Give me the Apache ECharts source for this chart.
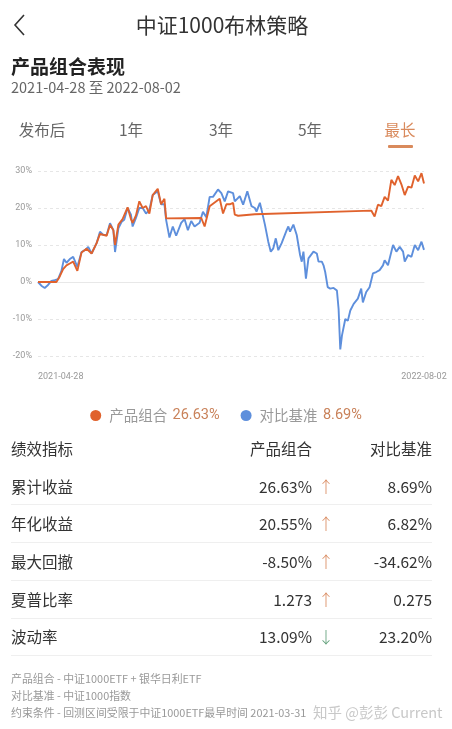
<!DOCTYPE html>
<html>
<head>
<meta charset="utf-8">
<script src="https://cdn.jsdelivr.net/npm/echarts@6/dist/echarts.min.js"></script>
<style>
  html, body { margin:0; padding:0; background:#fff; }
  body { width:452px; height:729px; position:relative; overflow:hidden;
         font-family: "Noto Sans CJK SC", "Noto Sans", Roboto, sans-serif; }
  #chart { position:absolute; left:0; top:0; width:452px; height:729px; }
  .t { position:absolute; white-space:nowrap; line-height:1; }
  .sep { position:absolute; left:11px; width:421px; height:1px; background:#efefef; }
</style>
</head>
<body>
<div id="chart"></div>
<script>
// ---------- data ----------
const periodLabels = ['2021-04-28', '2022-08-02'];          // x tick labels
const periodText = '2021-04-28 至 2022-08-02';
const seriesNames = ['产品组合', '对比基准'];
const seriesTotals = ['26.63%', '8.69%'];
const yTicks = [-20, -10, 0, 10, 20, 30];                  // y axis, %

// calendar-day offset from 2021-04-28 and cumulative return (%)
const portfolioDays = [0,22,26,30,34,38,42,47,52,58,64,70,74,82,86,90,92,96,101,107,111,113,117,121,125,129,133,137,143,147,151,153,195,199,205,211,217,221,225,229,233,235,239,259,398,402,406,410,414,418,422,426,430,434,438,442,446,450,454,458,461];
const portfolioValues = [0,0,1.5,3.5,4.5,5,5.5,3,8,9,7.7,10.5,13,12.5,15.5,14,10,15.5,17,20.2,17,16,18,21.8,20,20.5,18.5,23.5,25.2,21,22.5,17.2,17.3,15,20.5,21.5,22.5,18.5,21,21,21.4,18.2,17.9,18.3,19.3,17.7,20.9,20.5,23,22,27.6,26.2,28.6,26.4,23.5,25.8,25.5,28.8,27.2,29.4,26.63];

const benchmarkDays = [0,4,8,12,16,20,24,28,31,34,38,42,47,52,56,60,64,70,74,78,82,86,90,92,96,100,103,107,111,113,117,121,125,129,133,137,143,147,151,153,157,161,165,171,175,179,183,187,193,197,201,205,209,215,219,223,227,233,235,241,245,250,255,259,261,265,267,271,275,278,281,284,287,291,297,299,301,305,309,313,315,317,320,323,329,333,335,339,341,343,346,349,353,357,359,361,363,367,370,373,377,382,386,388,392,396,400,404,408,412,414,418,422,424,428,432,436,438,442,446,450,454,458,460,461];
const benchmarkValues = [0,-1,-1.6,-0.8,0.3,0.5,0.8,3,6.2,5.2,6.2,6.8,4.1,8.1,8.6,9.5,7.7,10.5,13.6,12.7,12.7,15.9,14,8.1,14.5,16.3,16.8,20,18.2,15,17.3,20,20,18.5,19.5,23.5,24.5,21,21,16.8,12,15,12.5,16,17,14,16.5,15,16,19,17.5,23,23,25,24,21.8,24.5,24,21.8,23.2,20.9,24.5,20.5,20,19,21.4,19.5,15.5,10.9,8.2,9.1,11.8,8.6,10.5,14,15,13.6,15.5,12.7,7.3,5.5,8.2,0.9,6.4,8.2,7.7,5.5,5.5,4.5,2.7,-1.4,-1.8,-1.6,-2.3,-7.3,-18.2,-14.5,-10,-10.5,-7.7,-5.9,-4.5,-1.8,-5.5,-2.7,-1.4,2.3,2.7,3.2,4.5,5.9,4.5,8.2,10,8.2,9.5,8.2,5.5,7.3,6.8,10,8.6,10.9,11.4,8.69];

const tableHead = ['绩效指标', '产品组合', '对比基准'];
const metricNames = ['累计收益', '年化收益', '最大回撤', '夏普比率', '波动率'];
const portfolioMetrics = ['26.63%', '20.55%', '-8.50%', '1.273', '13.09%'];
const metricArrows = ['↑', '↑', '↑', '↑', '↓'];
const benchmarkMetrics = ['8.69%', '6.82%', '-34.62%', '0.275', '23.20%'];
const tabs = ['发布后', '1年', '3年', '5年', '最长'];
const footLines = ['产品组合 - 中证1000ETF + 银华日利ETF', '对比基准 - 中证1000指数', '约束条件 - 回测区间受限于中证1000ETF最早时间 2021-03-31'];

// ---------- page chrome (HTML text) ----------
function addText(txt, css) {
  const d = document.createElement('div');
  d.className = 't';
  d.textContent = txt;
  Object.assign(d.style, css);
  document.body.appendChild(d);
  return d;
}
// back chevron
const chev = document.createElementNS('http://www.w3.org/2000/svg', 'svg');
chev.setAttribute('width', '16'); chev.setAttribute('height', '24');
chev.style.position = 'absolute'; chev.style.left = '12px'; chev.style.top = '13px';
chev.innerHTML = '<polyline points="12,2 3,12 12,22" fill="none" stroke="#333" stroke-width="1.6"/>';
document.body.appendChild(chev);

addText('中证1000布林策略', { left:'-4px', width:'452px', textAlign:'center', top:'14px', fontSize:'21px', color:'#333' });
addText('产品组合表现', { left:'11px', top:'56px', fontSize:'19px', fontWeight:'bold', color:'#222' });
addText(periodText, { left:'11px', top:'80px', fontSize:'14.5px', color:'#666' });

const tabX = [42, 131, 221, 310, 400];
tabs.forEach((t, i) => {
  addText(t, { left:(tabX[i] - 40) + 'px', width:'80px', textAlign:'center', top:'122px', fontSize:'15.5px',
    color: i === 4 ? '#d98a5c' : '#666' });
});
const ul = document.createElement('div');
Object.assign(ul.style, { position:'absolute', left:'388px', top:'145px', width:'25px', height:'2.5px', background:'#d98a5c', borderRadius:'1px' });
document.body.appendChild(ul);

// table
const rowCenters = [449, 487, 524, 562, 600, 637];
addText(tableHead[0], { left:'11px', top:(rowCenters[0]-8)+'px', fontSize:'15.5px', color:'#333' });
addText(tableHead[1], { right:(452-312)+'px', top:(rowCenters[0]-8)+'px', fontSize:'15.5px', color:'#333' });
addText(tableHead[2], { right:(452-432)+'px', top:(rowCenters[0]-8)+'px', fontSize:'15.5px', color:'#333' });
metricNames.forEach((m, i) => {
  const y = rowCenters[i+1] - 8;
  addText(m, { left:'11px', top:y+'px', fontSize:'15.5px', color:'#333' });
  addText(portfolioMetrics[i], { right:(452-312)+'px', top:y+'px', fontSize:'15.5px', color:'#333' });
  addText(metricArrows[i], { left:'318px', top:(y-1)+'px', fontSize:'16px', fontWeight:'300',
    color: metricArrows[i] === '↑' ? '#d9895e' : '#5e9e78' });
  addText(benchmarkMetrics[i], { right:(452-432)+'px', top:y+'px', fontSize:'15.5px', color:'#333' });
});
[504, 542, 580, 618, 655].forEach(y => {
  const s = document.createElement('div'); s.className = 'sep'; s.style.top = y + 'px';
  document.body.appendChild(s);
});

// footer
const footY = [673, 690, 707];
footLines.forEach((f, i) => addText(f, { left:'11px', top:footY[i]+'px', fontSize:'10.9px', color:'#999' }));
addText('知乎 @彭彭 Current', { left:'313px', top:'705px', fontSize:'14.5px', color:'#c8c8c8' });

// ---------- chart ----------
const toPairs = (xs, ys) => xs.map((x, i) => [x, ys[i]]);
const chart = echarts.init(document.getElementById('chart'), null, { renderer: 'canvas' });
chart.setOption({
  backgroundColor: 'transparent',
  animation: false,
  color: ['#e0622d', '#5e8fdc'],
  grid: { left: 38, right: 28, top: 171, height: 185 },
  legend: {
    top: 403, left: 'center', icon: 'circle', itemWidth: 11, itemHeight: 11, itemGap: 21,
    data: seriesNames,
    formatter: name => `{n|${name}} {v|${seriesTotals[seriesNames.indexOf(name)]}}`,
    textStyle: {
      rich: {
        n: { fontSize: 14.5, color: '#999', fontFamily: 'Noto Sans CJK SC', padding: [0, 2, 0, 3] },
        v: { fontSize: 14.5, color: '#c9825a', fontFamily: 'Roboto' }
      }
    }
  },
  xAxis: {
    type: 'value', min: 0, max: 461, interval: 461, offset: 10,
    axisLine: { show: true, lineStyle: { color: '#e8e8e8', width: 1 } },
    axisTick: { show: false },
    splitLine: { show: false },
    axisLabel: {
      color: '#999', fontSize: 9, fontFamily: 'Roboto', margin: 6,
      alignMinLabel: 'left', alignMaxLabel: 'center',
      formatter: v => v === 0 ? periodLabels[0] : periodLabels[1]
    }
  },
  yAxis: {
    type: 'value', min: yTicks[0], max: yTicks[yTicks.length-1], interval: 10,
    axisLine: { show: false }, axisTick: { show: false },
    axisLabel: { color: '#999', fontSize: 9, fontFamily: 'Roboto', margin: 6, formatter: '{value}%' },
    splitLine: { lineStyle: { color: '#e6e6e6', type: [3, 3], width: 1 } }
  },
  series: [
    { name: seriesNames[0], type: 'line', data: toPairs(portfolioDays, portfolioValues),
      showSymbol: false, symbol: 'none', lineStyle: { width: 1.9 }, z: 3 },
    { name: seriesNames[1], type: 'line', data: toPairs(benchmarkDays, benchmarkValues),
      showSymbol: false, symbol: 'none', lineStyle: { width: 1.9 }, z: 2 }
  ]
});
</script>
</body>
</html>
